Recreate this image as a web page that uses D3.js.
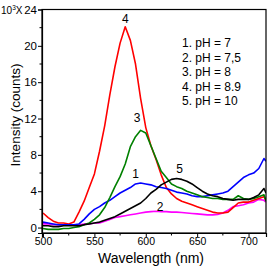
<!DOCTYPE html>
<html>
<head>
<meta charset="utf-8">
<script src="https://cdn.jsdelivr.net/npm/d3@7"></script>
<style>
  body { margin: 0; background: #fff; }
  svg { display: block; font-family: Arial, "Liberation Sans", sans-serif; }
</style>
</head>
<body>
<svg width="270" height="268"></svg>
<script>
var svg = d3.select("svg");

// wavelength (nm), shared by all spectra
var wavelengths = [500,505,510,515,520,525,530,535,540,545,550,555,560,565,570,575,580,585,590,595,
  600,605,610,615,620,625,630,635,640,645,650,655,660,665,670,675,680,685,690,695,700,705,710,715,717];

// intensity, 10^3 counts
var ph7 = [0.6,0.5,0.4,0.3,0.3,0.3,0.3,0.4,0.9,1.5,2.0,2.3,2.7,3.0,3.4,3.8,4.1,4.4,4.8,4.9,
  4.8,4.7,4.5,4.4,4.3,4.1,3.9,3.8,3.7,3.5,3.4,3.4,3.5,3.6,3.7,3.8,4.0,4.5,5.0,5.5,5.8,6.0,6.5,7.6,7.3];
var ph75 = [0.4,0.4,0.3,0.3,0.3,0.3,0.3,0.3,0.4,0.4,0.5,0.5,0.7,0.9,1.1,1.2,1.3,1.4,1.5,1.6,
  1.7,1.75,1.8,1.75,1.75,1.7,1.7,1.65,1.6,1.55,1.5,1.45,1.4,1.4,1.45,1.6,1.9,2.3,2.4,2.5,2.7,2.8,3.1,3.0,2.8];
var ph8 = [-0.1,-0.2,-0.2,-0.2,-0.1,-0.1,0.0,0.1,0.3,0.5,0.9,1.4,2.2,3.3,4.5,5.6,7.0,8.9,10.0,10.7,
  10.4,9.0,7.6,6.2,5.5,4.8,4.5,4.3,4.0,3.8,3.6,3.4,3.3,3.2,3.2,3.1,3.1,3.1,3.5,3.2,3.1,3.2,3.4,3.6,2.9];
var ph89 = [1.6,1.1,0.7,0.5,0.5,0.4,0.6,1.7,2.9,4.4,5.9,8.4,11.2,14.6,17.7,20.3,22.1,20.6,18.0,14.2,
  11.0,9.0,7.5,5.8,4.4,3.7,3.2,2.9,2.7,2.5,2.3,2.1,1.9,1.7,1.6,1.6,1.7,2.2,2.7,2.8,2.8,3.0,3.2,3.4,3.0];
var ph10 = [0.2,0.2,0.1,0.1,0.2,0.2,0.2,0.2,0.3,0.4,0.5,0.6,0.8,1.0,1.2,1.5,1.8,2.1,2.4,2.7,
  3.2,3.8,4.2,4.7,5.0,5.3,5.4,5.3,5.1,4.8,4.4,4.0,3.7,3.5,3.4,3.2,3.1,3.0,3.1,3.1,3.1,3.3,3.6,4.3,3.8];

// drawing order: pink, red, blue, green, black
var series = [ph75, ph89, ph7, ph8, ph10];
var colors = ["#ff00ff", "#ff0000", "#0000ff", "#008000", "#000000"];

var legendText = ["1. pH = 7", "2. pH = 7,5", "3. pH = 8", "4. pH = 8.9", "5. pH = 10"];

// curve numbers, placed in data units
var curveNames = ["4", "3", "1", "5", "2"];
var curveNameX = [580, 591.5, 590, 633, 614];
var curveNameY = [22.5, 11.6, 5.5, 5.95, 1.8];

var xTicks = [500, 550, 600, 650, 700];
var xMinor = [525, 575, 625, 675];
var yTicks = [0, 4, 8, 12, 16, 20, 24];
var yMinor = [2, 6, 10, 14, 18, 22];

var plotLeft = 42, plotRight = 266, plotTop = 9.5, plotBottom = 233;

var x = d3.scaleLinear().domain([499, 717]).range([plotLeft, plotRight]);
var y = d3.scaleLinear().domain([-0.6, 24]).range([plotBottom, plotTop]);

var line = d3.line()
  .x(function(d, i) { return x(wavelengths[i]); })
  .y(function(d) { return y(d); });

var plot = svg.append("g");
plot.append("clipPath").attr("id", "clip")
  .append("rect").attr("x", plotLeft).attr("y", plotTop)
  .attr("width", plotRight - plotLeft).attr("height", plotBottom - plotTop);

for (var i = 0; i < series.length; i++) {
  plot.append("path")
    .attr("d", line(series[i]))
    .attr("clip-path", "url(#clip)")
    .attr("fill", "none")
    .attr("stroke", colors[i])
    .attr("stroke-width", 1.6)
    .attr("stroke-linejoin", "round");
}

// frame
svg.append("rect")
  .attr("x", plotLeft).attr("y", plotTop)
  .attr("width", plotRight - plotLeft).attr("height", plotBottom - plotTop)
  .attr("fill", "none").attr("stroke", "#000").attr("stroke-width", 1.2);

// axes
var xAxis = svg.append("g").attr("transform", "translate(0," + plotBottom + ")")
  .call(d3.axisBottom(x).tickValues(xTicks).tickSize(4).tickPadding(1).tickFormat(d3.format("d")));
xAxis.selectAll("text").attr("font-size", "10.5px").attr("fill", "#000");

var yAxis = svg.append("g").attr("transform", "translate(" + plotLeft + ",0)")
  .call(d3.axisLeft(y).tickValues(yTicks).tickSize(4).tickPadding(1).tickFormat(d3.format("d")));
yAxis.selectAll("text").attr("font-size", "11.5px").attr("fill", "#000");

svg.selectAll(".domain").attr("stroke-width", 1.2);

svg.append("g").selectAll("line").data(xMinor).enter().append("line")
  .attr("x1", function(d) { return x(d); }).attr("x2", function(d) { return x(d); })
  .attr("y1", plotBottom).attr("y2", plotBottom + 2.5).attr("stroke", "#000");
svg.append("g").selectAll("line").data(yMinor).enter().append("line")
  .attr("y1", function(d) { return y(d); }).attr("y2", function(d) { return y(d); })
  .attr("x1", plotLeft).attr("x2", plotLeft - 2.5).attr("stroke", "#000");

// axis titles
svg.append("text")
  .attr("x", 151).attr("y", 263)
  .attr("text-anchor", "middle").attr("font-size", "14px")
  .text("Wavelength (nm)");

svg.append("text")
  .attr("transform", "translate(20,115) rotate(-90)")
  .attr("text-anchor", "middle").attr("font-size", "13.5px")
  .text("Intensity (counts)");

var mult = svg.append("text").attr("x", 1).attr("y", 13.5).attr("font-size", "10px");
mult.append("tspan").text("10");
mult.append("tspan").attr("dy", -4).attr("font-size", "6.5px").text("3");
mult.append("tspan").attr("dy", 4).text("X");

// legend
svg.append("g").selectAll("text").data(legendText).enter().append("text")
  .attr("x", 182)
  .attr("y", function(d, i) { return 47 + i * 14.6; })
  .attr("font-size", "12px")
  .text(function(d) { return d; });

// curve numbers
svg.append("g").selectAll("text").data(curveNames).enter().append("text")
  .attr("x", function(d, i) { return x(curveNameX[i]); })
  .attr("y", function(d, i) { return y(curveNameY[i]); })
  .attr("text-anchor", "middle")
  .attr("font-size", "12px")
  .text(function(d) { return d; });
</script>
</body>
</html>
